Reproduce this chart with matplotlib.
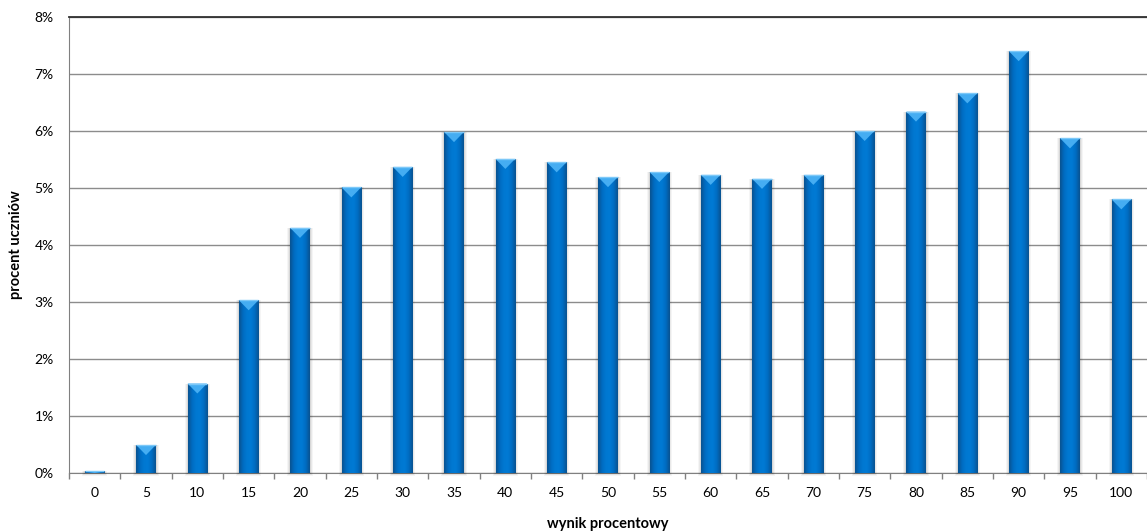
import matplotlib
matplotlib.use("Agg")
import matplotlib.pyplot as plt
import numpy as np
from matplotlib.colors import LinearSegmentedColormap
from matplotlib.patches import Polygon

categories = ["0", "5", "10", "15", "20", "25", "30", "35", "40", "45", "50",
              "55", "60", "65", "70", "75", "80", "85", "90", "95", "100"]
values = [0.03, 0.49, 1.57, 3.03, 4.30, 5.01, 5.37, 5.98, 5.51, 5.45, 5.19,
          5.28, 5.23, 5.16, 5.23, 6.00, 6.34, 6.66, 7.40, 5.87, 4.80]
yticks = [0, 1, 2, 3, 4, 5, 6, 7, 8]

plt.rcParams['font.family'] = ['Lato', 'DejaVu Sans']

W, H = 1147, 532
fig = plt.figure(figsize=(W / 100, H / 100), dpi=100)
ax = fig.add_axes([69 / W, (H - 473) / H, 1 - 69 / W, (473 - 17) / H])

x = np.arange(len(categories))
bw = 0.38
bars = ax.bar(x, values, width=bw, color="#0070C0", zorder=3, linewidth=0)

ax.set_xlim(-0.5, (W - 69) / 51.7 - 0.5)
ax.set_ylim(0, 8)

# gradient for bars
cmap = LinearSegmentedColormap.from_list(
    "bev", ["#0A528F", "#006CC2", "#0078D2", "#007AD4", "#006CC2", "#0A528F"])
grad = np.linspace(0, 1, 64).reshape(1, -1)
px_per_unit_y = 456 / 8
px_per_unit_x = 51.7
for xi, v, b in zip(x, values, bars):
    im = ax.imshow(grad, cmap=cmap, extent=(xi - bw / 2, xi + bw / 2, 0, v),
                   aspect="auto", zorder=3.1, interpolation="bicubic")
    im.set_clip_path(b)
    # top bevel triangle
    d = min(10 / px_per_unit_y, v)
    tri = Polygon([(xi - bw / 2, v), (xi + bw / 2, v), (xi, v - d)],
                  closed=True, facecolor="#45ADF2", edgecolor="none", zorder=3.3)
    ax.add_patch(tri)
    ax.plot([xi - bw / 2, xi + bw / 2], [v, v], color="#7CC8F8", lw=1, zorder=3.4,
            solid_capstyle="butt")
    # soft shadow
    for k, a in [(3, 0.04), (2, 0.05), (1, 0.07)]:
        ax.add_patch(plt.Rectangle((xi - bw / 2 - k / px_per_unit_x, -k / px_per_unit_y),
                                   bw + 2 * k / px_per_unit_x, v + k / px_per_unit_y,
                                   facecolor="#000000", alpha=a, edgecolor="none",
                                   zorder=2.9, clip_on=False))

ax.set_aspect("auto")
ax.set_yticks(yticks)
ax.set_yticklabels([f"{t}%" for t in yticks], fontsize=10)
ax.set_xticks(x)
ax.set_xticklabels(categories, fontsize=10)
ax.set_xticks(np.arange(-0.5, len(categories), 1), minor=True)
ax.tick_params(axis="x", which="major", length=0, pad=10)
ax.tick_params(axis="x", which="minor", length=4, color="#808080", width=1)
ax.tick_params(axis="y", length=0, pad=11)

ax.grid(axis="y", color="#8C8C8C", linewidth=1, zorder=0)
ax.set_axisbelow(True)
ax.spines["right"].set_visible(False)
ax.spines["left"].set_color("#808080")
ax.spines["bottom"].set_color("#808080")
ax.spines["top"].set_color("#303030")
ax.spines["top"].set_linewidth(1.3)

ax.set_ylabel("procent uczniów", fontsize=10.5, fontweight="bold", labelpad=8)
ax.set_xlabel("wynik procentowy", fontsize=10.5, fontweight="bold", labelpad=13)

fig.savefig("out.png", dpi=100)
